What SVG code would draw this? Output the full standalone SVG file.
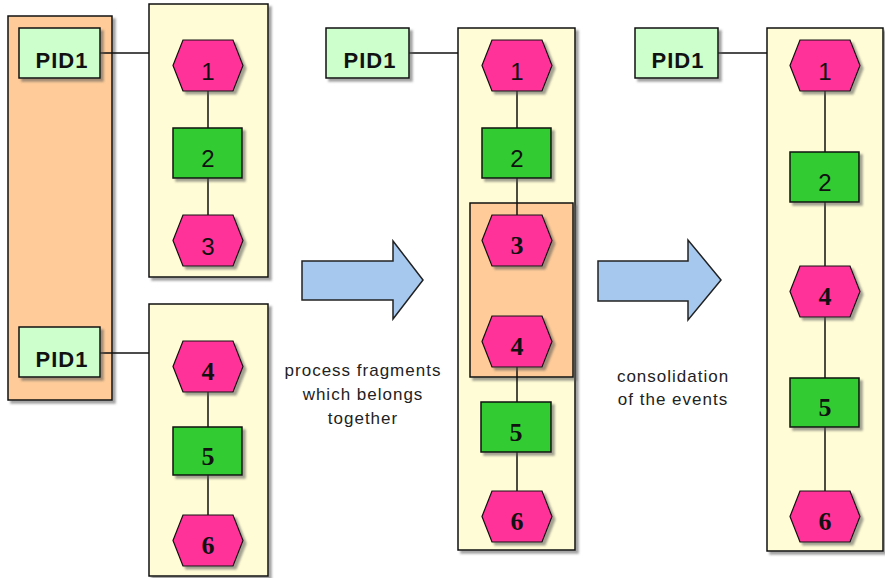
<svg xmlns="http://www.w3.org/2000/svg" width="885" height="578" viewBox="0 0 885 578">
<defs>
<filter id="sh" x="-20%" y="-20%" width="150%" height="150%">
<feDropShadow dx="3" dy="3" stdDeviation="1" flood-color="#555" flood-opacity="0.55"/>
</filter>
<polygon id="hex" points="0,25.5 10,0 60,0 70,25.5 60,51 10,51"/>
</defs>
<style>
.grp{fill:#FFCC99;stroke:#111;stroke-width:1.5;filter:url(#sh)}
.lane{fill:#FFFCD6;stroke:#111;stroke-width:1.5;filter:url(#sh)}
.pid{fill:#CCFFCC;stroke:#111;stroke-width:1.5;filter:url(#sh)}
.ev{fill:#FF3399;stroke:#111;stroke-width:1.2;filter:url(#sh)}
.st{fill:#33CC33;stroke:#111;stroke-width:1.5;filter:url(#sh)}
.arr{fill:#A6C8EE;stroke:#222;stroke-width:1.5}
.ln{stroke:#111;stroke-width:1.5;fill:none}
.pt{font-family:"Liberation Sans",Arial,sans-serif;font-weight:bold;font-size:22px;letter-spacing:1px;fill:#111;text-anchor:middle}
.ns{font-family:"Liberation Sans",Arial,sans-serif;font-size:24px;fill:#111;text-anchor:middle}
.nr{font-family:"Liberation Serif","Times New Roman",serif;font-weight:bold;font-size:26px;fill:#111;text-anchor:middle}
.lb{font-family:"Liberation Sans",Arial,sans-serif;font-size:17px;letter-spacing:1px;fill:#222;text-anchor:middle}
</style>

<g id="group-left"><rect class="grp" x="8" y="16" width="104" height="384"/></g>
<g id="lane-left-top"><rect class="lane" x="149" y="4" width="119" height="273"/></g>
<g id="lane-left-bottom"><rect class="lane" x="149" y="304" width="119" height="272"/></g>
<g id="lane-mid"><rect class="lane" x="458" y="28" width="117" height="522"/></g>
<g id="lane-right"><rect class="lane" x="767" y="28" width="116" height="523"/></g>
<g id="group-mid"><rect class="grp" x="470" y="203" width="103" height="174"/></g>

<g id="connectors">
<line class="ln" x1="100" y1="53" x2="149" y2="53"/>
<line class="ln" x1="100" y1="353" x2="149" y2="353"/>
<line class="ln" x1="208" y1="91" x2="208" y2="128"/>
<line class="ln" x1="208" y1="178" x2="208" y2="215"/>
<line class="ln" x1="208" y1="392" x2="208" y2="427"/>
<line class="ln" x1="208" y1="475" x2="208" y2="515"/>
<line class="ln" x1="409" y1="53" x2="458" y2="53"/>
<line class="ln" x1="517" y1="91" x2="517" y2="128"/>
<line class="ln" x1="517" y1="178" x2="517" y2="215"/>
<line class="ln" x1="517" y1="367" x2="517" y2="402"/>
<line class="ln" x1="517" y1="452" x2="517" y2="491"/>
<line class="ln" x1="718" y1="53" x2="767" y2="53"/>
<line class="ln" x1="825" y1="91" x2="825" y2="152"/>
<line class="ln" x1="825" y1="202" x2="825" y2="266"/>
<line class="ln" x1="825" y1="317" x2="825" y2="378"/>
<line class="ln" x1="825" y1="427" x2="825" y2="491"/>
</g>

<g id="pid-left-top"><rect class="pid" x="19" y="28" width="81" height="50"/><text class="pt" x="62" y="68">PID1</text></g>
<g id="pid-left-bottom"><rect class="pid" x="19" y="327" width="81" height="50"/><text class="pt" x="62" y="367">PID1</text></g>
<g id="pid-mid"><rect class="pid" x="326" y="28" width="83" height="50"/><text class="pt" x="370" y="68">PID1</text></g>
<g id="pid-right"><rect class="pid" x="635" y="28" width="83" height="50"/><text class="pt" x="678" y="68">PID1</text></g>

<g id="l-ev1"><use href="#hex" class="ev" x="173" y="40"/><text class="ns" x="208" y="80">1</text></g>
<g id="l-st2"><rect class="st" x="173" y="128" width="69" height="50"/><text class="ns" x="208" y="167">2</text></g>
<g id="l-ev3"><use href="#hex" class="ev" x="173" y="215"/><text class="ns" x="208" y="255">3</text></g>
<g id="l-ev4"><use href="#hex" class="ev" x="173" y="341"/><text class="nr" x="208" y="380">4</text></g>
<g id="l-st5"><rect class="st" x="173" y="427" width="69" height="48"/><text class="nr" x="208" y="465">5</text></g>
<g id="l-ev6"><use href="#hex" class="ev" x="173" y="515"/><text class="nr" x="208" y="554">6</text></g>

<g id="m-ev1"><use href="#hex" class="ev" x="482" y="40"/><text class="ns" x="517" y="80">1</text></g>
<g id="m-st2"><rect class="st" x="482" y="128" width="69" height="50"/><text class="ns" x="517" y="167">2</text></g>
<g id="m-ev3"><use href="#hex" class="ev" x="482" y="215"/><text class="nr" x="517" y="254">3</text></g>
<g id="m-ev4"><use href="#hex" class="ev" x="482" y="316"/><text class="nr" x="517" y="355">4</text></g>
<g id="m-st5"><rect class="st" x="481" y="402" width="70" height="50"/><text class="nr" x="516" y="441">5</text></g>
<g id="m-ev6"><use href="#hex" class="ev" x="482" y="491"/><text class="nr" x="517" y="530">6</text></g>

<g id="r-ev1"><use href="#hex" class="ev" x="790" y="40"/><text class="ns" x="825" y="80">1</text></g>
<g id="r-st2"><rect class="st" x="790" y="152" width="69" height="50"/><text class="ns" x="825" y="191">2</text></g>
<g id="r-ev4"><use href="#hex" class="ev" x="790" y="266"/><text class="nr" x="825" y="305">4</text></g>
<g id="r-st5"><rect class="st" x="790" y="378" width="69" height="49"/><text class="nr" x="825" y="416">5</text></g>
<g id="r-ev6"><use href="#hex" class="ev" x="790" y="491"/><text class="nr" x="825" y="530">6</text></g>

<g id="arrow-1"><polygon class="arr" points="302,261 393,261 393,241 423,280 393,319 393,300 302,300"/>
<text class="lb" x="363" y="376">process fragments</text>
<text class="lb" x="363" y="400">which belongs</text>
<text class="lb" x="363" y="424">together</text></g>
<g id="arrow-2"><polygon class="arr" points="598,261 688,261 688,240 721,280 688,320 688,301 598,301"/>
<text class="lb" x="673" y="382">consolidation</text>
<text class="lb" x="673" y="405">of the events</text></g>
</svg>
